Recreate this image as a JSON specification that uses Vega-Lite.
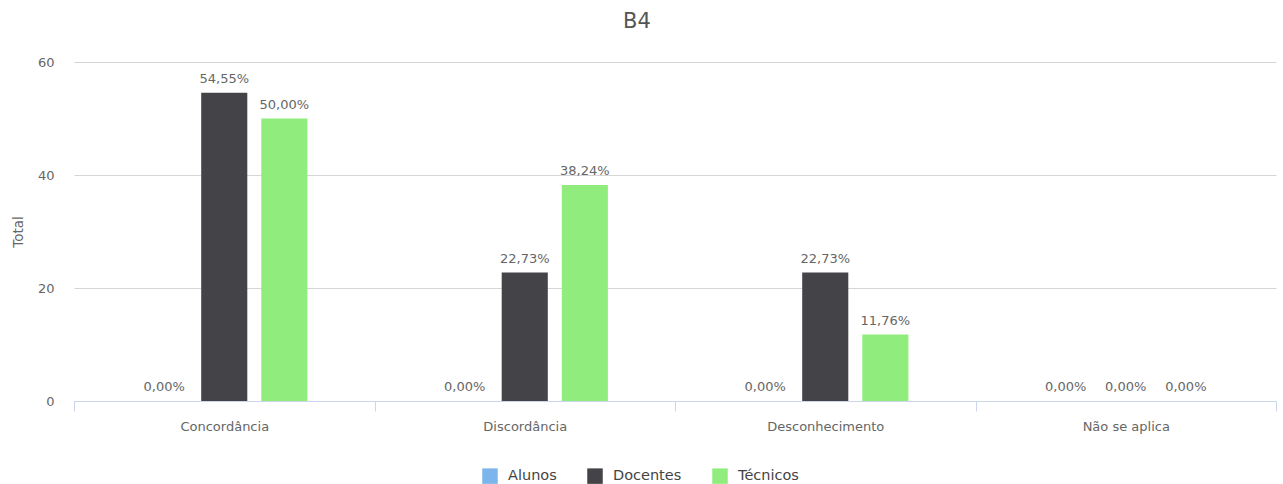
{
  "$schema": "https://vega.github.io/schema/vega-lite/v6.json",
  "autosize": "none",
  "width": 1202,
  "height": 339,
  "padding": {"left": 74, "top": 62, "right": 7, "bottom": 83},
  "background": "white",
  "title": {"text": "B4", "fontSize": 21, "font": "DejaVu Sans", "fontWeight": "normal", "color": "#555555", "anchor": "middle", "offset": 24, "frame": "group", "dx": -38},
  "config": {"view": {"stroke": null}, "font": "DejaVu Sans"},
  "data": {"values": [
    {"cat": "Concordância", "serie": "Alunos", "v": 0},
    {"cat": "Concordância", "serie": "Docentes", "v": 54.55},
    {"cat": "Concordância", "serie": "Técnicos", "v": 50.00},
    {"cat": "Discordância", "serie": "Alunos", "v": 0},
    {"cat": "Discordância", "serie": "Docentes", "v": 22.73},
    {"cat": "Discordância", "serie": "Técnicos", "v": 38.24},
    {"cat": "Desconhecimento", "serie": "Alunos", "v": 0},
    {"cat": "Desconhecimento", "serie": "Docentes", "v": 22.73},
    {"cat": "Desconhecimento", "serie": "Técnicos", "v": 11.76},
    {"cat": "Não se aplica", "serie": "Alunos", "v": 0},
    {"cat": "Não se aplica", "serie": "Docentes", "v": 0},
    {"cat": "Não se aplica", "serie": "Técnicos", "v": 0}
  ]},
  "transform": [
    {"calculate": "replace(format(datum.v, '.2f'), '.', ',') + '%'", "as": "label"}
  ],
  "encoding": {
    "x": {
      "field": "cat", "type": "nominal",
      "sort": ["Concordância", "Discordância", "Desconhecimento", "Não se aplica"],
      "scale": {"paddingInner": 0, "paddingOuter": 0},
      "axis": {
        "title": null, "labelAngle": 0, "labelFontSize": 13, "labelColor": "#666666",
        "labelPadding": 9, "domainColor": "#ccd6eb", "tickColor": "#ccd6eb",
        "tickBand": "extent", "tickSize": 10, "labelFont": "DejaVu Sans"
      }
    },
    "xOffset": {
      "field": "serie", "type": "nominal",
      "scale": {"domain": [" ", "Alunos", "Docentes", "Técnicos", "  "], "paddingInner": 0.233, "paddingOuter": 0.117}
    },
    "y": {
      "field": "v", "type": "quantitative",
      "scale": {"domain": [0, 60]},
      "axis": {
        "title": "Total", "titleFontSize": 13.5, "titleFontWeight": "normal", "titleColor": "#666666",
        "titlePadding": 12, "values": [0, 20, 40, 60], "labelFontSize": 13, "labelColor": "#666666",
        "domain": false, "ticks": false, "labelPadding": 20, "gridColor": "#d6d6d6"
      }
    }
  },
  "layer": [
    {
      "mark": {"type": "bar"},
      "encoding": {
        "color": {
          "field": "serie", "type": "nominal",
          "sort": ["Alunos", "Docentes", "Técnicos"],
          "scale": {"domain": ["Alunos", "Docentes", "Técnicos"], "range": ["#7cb5ec", "#434348", "#90ed7d"]},
          "legend": {
            "title": null, "orient": "none", "legendX": 408, "legendY": 406,
            "direction": "horizontal", "symbolType": "square", "symbolSize": 240,
            "symbolStrokeWidth": 0, "labelFontSize": 14.5, "labelColor": "#444444",
            "columnPadding": 30, "labelOffset": 10
          }
        }
      }
    },
    {
      "mark": {"type": "text", "baseline": "bottom", "dy": -7, "fontSize": 13, "color": "#666666"},
      "encoding": {"text": {"field": "label"}}
    }
  ]
}
